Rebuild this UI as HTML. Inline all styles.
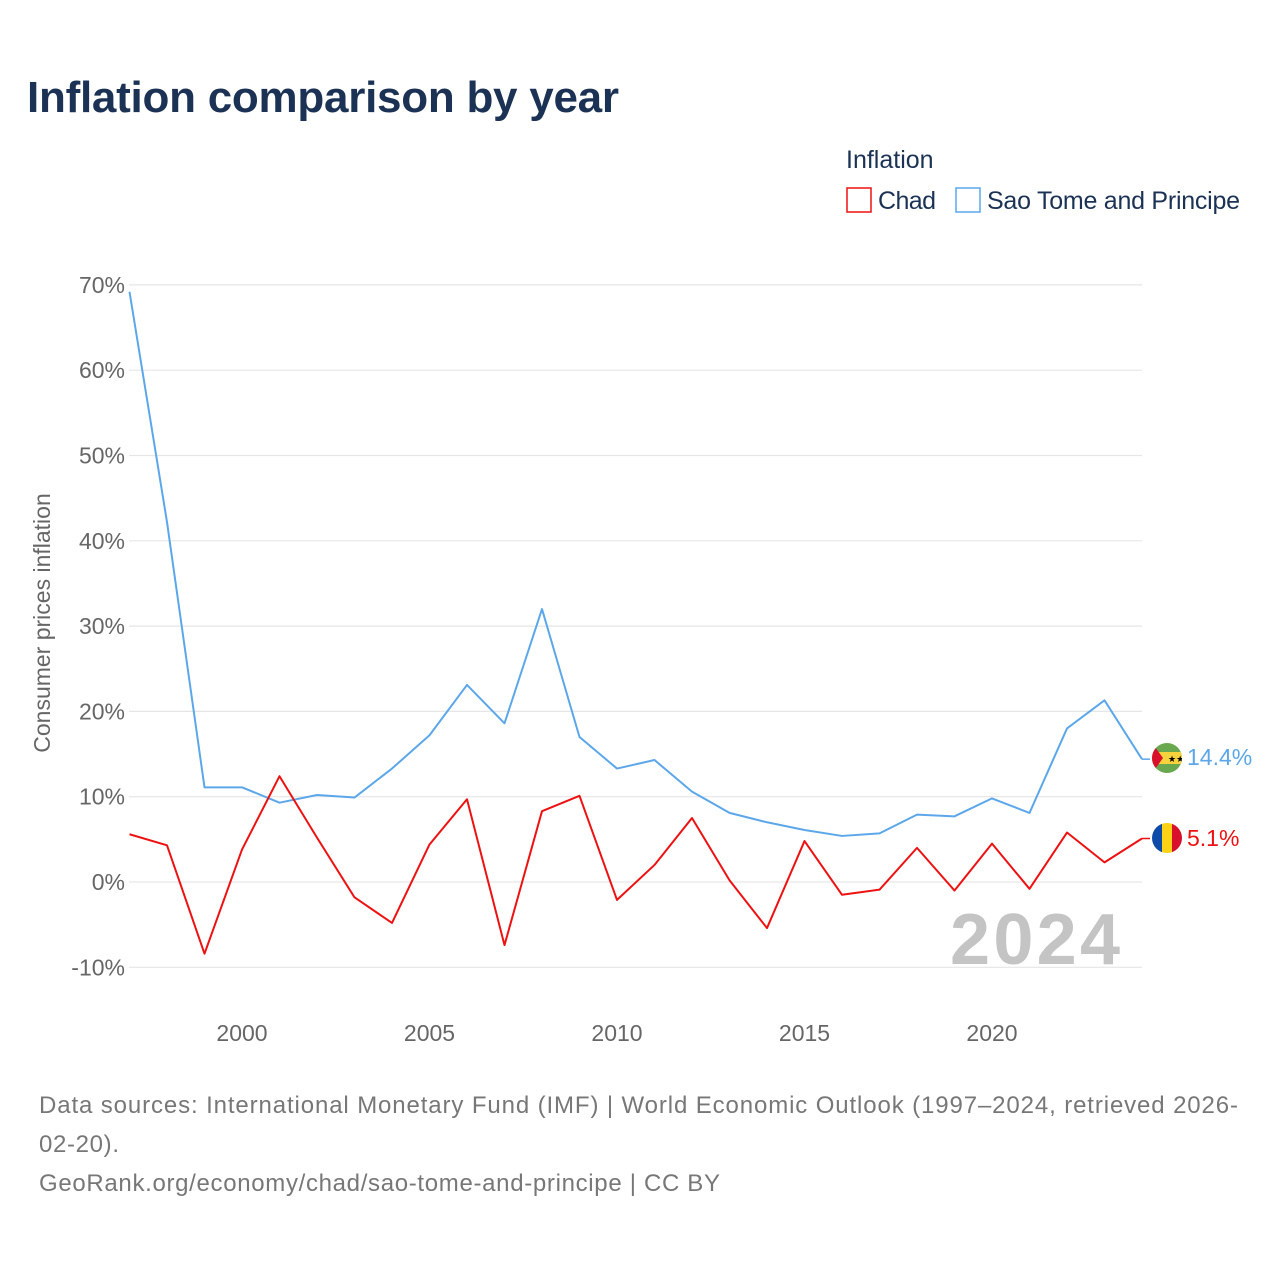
<!DOCTYPE html>
<html><head><meta charset="utf-8"><style>
body{margin:0;background:#fff;font-family:"Liberation Sans",sans-serif;}
svg text{font-family:"Liberation Sans",sans-serif;}
</style></head><body>
<svg width="1280" height="1280" xmlns="http://www.w3.org/2000/svg">
<text x="27" y="112" font-size="44" font-weight="bold" fill="#1b3255" textLength="592">Inflation comparison by year</text>
<text x="846" y="168" font-size="25" fill="#1b3255">Inflation</text>
<g><rect x="847" y="188" width="24" height="24" fill="none" stroke="#ee1111" stroke-width="1.5"/><text x="878" y="209" font-size="25" fill="#1b3255" textLength="58">Chad</text></g>
<g><rect x="956" y="188" width="24" height="24" fill="none" stroke="#5ca7ea" stroke-width="1.5"/><text x="987" y="209" font-size="25" fill="#1b3255" textLength="253">Sao Tome and Principe</text></g>
<g id="grid"></g><g id="yt"></g><g id="xt"></g>
<text transform="translate(50,623) rotate(-90)" text-anchor="middle" font-size="23" fill="#666">Consumer prices inflation</text>
<text x="1120" y="964" text-anchor="end" font-size="72" font-weight="bold" fill="#c4c4c4" textLength="170">2024</text>
<g id="lines"></g>
<g>
<clipPath id="c1"><circle cx="1167" cy="758" r="15"/></clipPath>
<g clip-path="url(#c1)"><rect x="1150" y="740" width="34" height="36" fill="#6aa84f"/><rect x="1150" y="752" width="34" height="12" fill="#f6d33c"/><polygon points="1150,740 1163,758 1150,776" fill="#d8102c"/><text x="1168" y="762" font-size="9" fill="#000">★★</text></g></g>
<g>
<clipPath id="c2"><circle cx="1167" cy="838" r="15"/></clipPath>
<g clip-path="url(#c2)"><rect x="1150" y="820" width="12" height="36" fill="#0e4aa8"/><rect x="1162" y="820" width="10" height="36" fill="#fcd116"/><rect x="1172" y="820" width="14" height="36" fill="#d8102c"/></g></g>
<text x="1187" y="765" font-size="23" fill="#5ca7ea">14.4%</text>
<text x="1187" y="846" font-size="23" fill="#ee1111">5.1%</text>
<text x="39" y="1113" font-size="24" fill="#777" textLength="1199">Data sources: International Monetary Fund (IMF) | World Economic Outlook (1997–2024, retrieved 2026-</text>
<text x="39" y="1152" font-size="24" fill="#777" textLength="80">02-20).</text>
<text x="39" y="1191" font-size="24" fill="#777" textLength="681">GeoRank.org/economy/chad/sao-tome-and-principe | CC BY</text>
</svg>
<script>
const years=[1997,1998,1999,2000,2001,2002,2003,2004,2005,2006,2007,2008,2009,2010,2011,2012,2013,2014,2015,2016,2017,2018,2019,2020,2021,2022,2023,2024];
const stp=[69.2,42.2,11.1,11.1,9.3,10.2,9.9,13.3,17.2,23.1,18.6,32.0,17.0,13.3,14.3,10.6,8.1,7.0,6.1,5.4,5.7,7.9,7.7,9.8,8.1,18.0,21.3,14.4];
const chad=[5.6,4.3,-8.4,3.8,12.4,5.2,-1.8,-4.8,4.4,9.7,-7.4,8.3,10.1,-2.1,2.0,7.5,0.2,-5.4,4.8,-1.5,-0.9,4.0,-1.0,4.5,-0.8,5.8,2.3,5.1];
const yTicks=[-10,0,10,20,30,40,50,60,70];
const xTicks=[2000,2005,2010,2015,2020];
const NS="http://www.w3.org/2000/svg";
const X=y=>129.5+(y-1997)*37.5;
const Y=v=>882-v*8.53;
function mk(t,a,p){const e=document.createElementNS(NS,t);for(const k in a)e.setAttribute(k,a[k]);document.getElementById(p).appendChild(e);return e;}
yTicks.forEach(v=>{
 const l=mk('line',{x1:129,x2:1142,y1:Y(v),y2:Y(v),stroke:'#e6e6e6','stroke-width':1.2},'grid');
 
 
 const t=mk('text',{x:125,y:Y(v)+8,'text-anchor':'end','font-size':23,fill:'#666'},'yt');
 t.textContent=v+'%';
 
 
});
xTicks.forEach(v=>{
 const t=mk('text',{x:X(v),y:1041,'text-anchor':'middle','font-size':23,fill:'#666'},'xt');
 t.textContent=v;
 
 
});
function line(d,c,n){
 const p=mk('polyline',{points:d.map((v,i)=>X(years[i])+','+Y(v)).join(' '),fill:'none',stroke:c,'stroke-width':2,'stroke-linejoin':'round'},'lines');
 
 
 const last=d[d.length-1];
 mk('line',{x1:X(years[years.length-1]),x2:X(years[years.length-1])+8,y1:Y(last),y2:Y(last),stroke:c,'stroke-width':1.5},'lines');
}
line(stp,'#5ca7ea','line-stp');
line(chad,'#ee1111','line-chad');
</script>
</body></html>
